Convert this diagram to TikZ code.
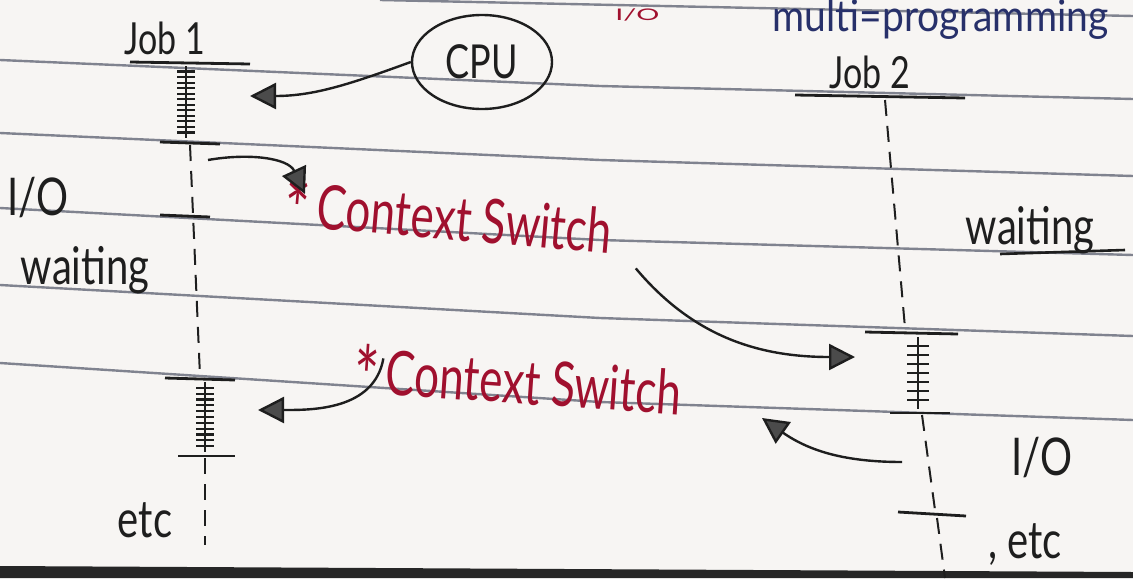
\documentclass[tikz,border=0pt]{standalone}
\usepackage{fontspec}
\setmainfont{Lato}
\usetikzlibrary{arrows.meta,calc,shapes.geometric}
\definecolor{ink}{HTML}{1E1E1E}
\definecolor{redink}{HTML}{A0102E}
\definecolor{ruleline}{HTML}{80838F}
\definecolor{blueink}{HTML}{27306A}
\definecolor{paper}{HTML}{F7F5F3}
\tikzset{
  hand/.style={text=ink, inner sep=1pt, font=\fontsize{20}{22}\selectfont},
  redtxt/.style={text=redink, inner sep=1pt, font=\fontsize{22}{24}\selectfont},
  ruled/.style={draw=ruleline, line width=1.2pt},
  bar/.style={draw=ink, line width=1.4pt},
  tickmark/.style={draw=ink, line width=1.1pt},
  track/.style={draw=ink, line width=1pt, dash pattern=on 8pt off 5pt},
  link/.style={draw=ink, line width=1.2pt, -{Triangle[length=13pt,width=13pt,fill=ink!80]}},
}
\newcommand\hatchseg[5]{%
  \draw[bar] (#1,#2) -- (#1,#3);
  \foreach \k in {1,...,#4} {
    \pgfmathsetmacro\yy{#2+(#3-#2)*\k/(#4+1)}
    \draw[tickmark] (#1-#5,\yy) -- (#1+#5,\yy);
  }
}
\newcommand\bigstar{\raisebox{-0.45ex}{\fontsize{30}{30}\selectfont *}}
\begin{document}
\begin{tikzpicture}[x=0.5pt,y=-0.5pt]
\useasboundingbox (0,0) rectangle (1133,578);
\clip (0,0) rectangle (1133,578);
\fill[paper] (0,0) rectangle (1133,578);
% ruled lines of the notebook
\draw[ruled] (380,0) -- (1133,16);
\draw[ruled] (0,60) -- (600,86) -- (1133,99);
\draw[ruled] (0,133) -- (600,160) -- (1133,176);
\draw[ruled] (0,208) -- (600,240) -- (1133,255);
\draw[ruled] (0,285) -- (600,318) -- (1133,336);
\draw[ruled] (0,363) -- (600,402) -- (1133,420);
\fill[black!85] (0,566) -- (1133,572) -- (1133,578) -- (0,578) -- cycle;
% heading
\node[anchor=base west, text=redink, inner sep=0pt, font=\fontsize{8}{9}\selectfont] (headio) at (615,20) {\scalebox{1.8}[1]{I/O}};
\node[anchor=base west, text=blueink, inner sep=0pt, font=\fontsize{19.5}{20}\selectfont] (headmp) at (772,32) {\scalebox{1}[1.12]{multi=programming}};
% Job 1
\node[hand, font=\fontsize{17}{19}\selectfont] (job1) at (165,38) {\scalebox{1}[1.3]{Job 1}};
\draw[bar] (130,62) -- (250,64);
\hatchseg{186}{66}{138}{12}{9}
\draw[bar] (160,142) -- (220,144);
\draw[track] (190,145) -- (200,376);
\draw[bar] (160,215) -- (210,217);
\draw[bar] (165,378) -- (235,380);
\hatchseg{205}{382}{452}{11}{9}
\draw[bar] (178,456) -- (235,456);
\draw[track] (205,458) -- (205,545);
% Job 2
\node[hand, font=\fontsize{17}{19}\selectfont] (job2) at (870,72) {\scalebox{1}[1.3]{Job 2}};
\draw[bar] (795,95) -- (965,98);
\draw[track] (885,100) -- (905,328);
\draw[bar] (865,332) -- (958,334);
\hatchseg{918}{337}{409}{7}{11}
\draw[bar] (890,413) -- (950,413);
\draw[track] (922,415) -- (935,510);
\draw[bar] (898,512) -- (966,516);
\draw[track] (937,518) -- (945,578);
% labels
\node[hand] (io1) at (38,198) {\scalebox{1}[1.3]{I/O}};
\node[hand] (wait1) at (85,270) {\scalebox{1}[1.3]{waiting}};
\node[hand] (etc1) at (145,520) {\scalebox{1}[1.3]{etc}};
\node[hand] (wait2) at (1030,230) {\scalebox{1}[1.3]{waiting}};
\draw[tickmark, line width=1.3pt] (1000,254) -- (1125,250);
\node[hand] (io2) at (1042,458) {\scalebox{1}[1.3]{I/O}};
\node[hand] (etc2) at (1025,545) {\scalebox{1}[1.3]{, etc}};
% CPU
\node[draw=ink, line width=1.2pt, ellipse, minimum width=70pt, minimum height=47pt, hand, font=\fontsize{18}{20}\selectfont] (cpu) at (482,62) {\scalebox{1}[1.3]{CPU}};
% context switch labels
\node[redtxt, rotate=-5] (cs1) at (448,222) {\scalebox{1}[1.4]{\bigstar\,Context Switch}};
\node[redtxt, rotate=-4] (cs2) at (517,386) {\scalebox{1}[1.4]{\bigstar\,Context Switch}};
% arrow targets
\coordinate (a1) at (250,96);
\coordinate (s2) at (208,160);
\coordinate (a2) at (305,194);
\coordinate (a3) at (855,357);
\coordinate (a4) at (258,410);
\coordinate (s5) at (902,462);
\coordinate (a5) at (762,418);
% connectors
\draw[link] (cpu.west) to[out=200,in=0] (a1);
\draw[link] (s2) to[out=10,in=115] (a2);
\draw[link] ($(cs1.south east)+(25,-2)$) to[out=-50,in=180] (a3);
\draw[link] ($(cs2.north west)+(30,18)$) to[out=-100,in=0] (a4);
\draw[link] (s5) to[out=180,in=-35] (a5);
\end{tikzpicture}
\end{document}
